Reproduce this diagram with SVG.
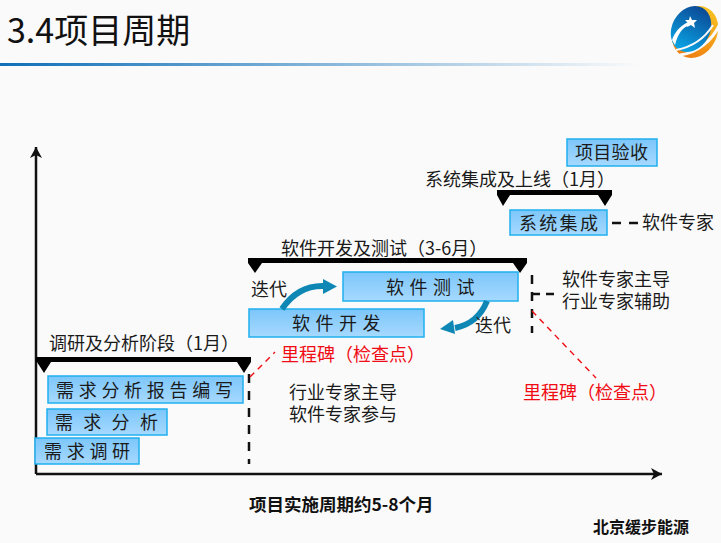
<svg xmlns="http://www.w3.org/2000/svg" width="721" height="543" viewBox="0 0 721 543">
<style>
text{font-family:"Noto Sans CJK SC","Noto Sans",sans-serif;fill:#1a1a1a}
.l{font-size:18px}
.b{font-size:18px}
.r{font-size:18px;fill:#f00c14}
.box{fill:url(#bg);stroke:#1fb0ee;stroke-width:1.5}
.dash{stroke:#111;stroke-width:2.5;fill:none;stroke-dasharray:9 8}
.red{stroke:#f00c14;stroke-width:1.4;fill:none;stroke-dasharray:6 5}
.bar{fill:#000}
.ax{stroke:#111;stroke-width:2.5;fill:none}
.it{stroke:#0f87b4;stroke-width:6;fill:none}
</style>
<defs>
<linearGradient id="bg" x1="0" y1="0" x2="0" y2="1"><stop offset="0" stop-color="#7cc6fa"/><stop offset="1" stop-color="#a6d9ff"/></linearGradient>
<linearGradient id="hb" x1="0" y1="0" x2="1" y2="0"><stop offset="0" stop-color="#0f6fb8"/><stop offset="1" stop-color="#fafafa"/></linearGradient>
<linearGradient id="lb" x1="0" y1="0" x2="0" y2="1"><stop offset="0" stop-color="#0b4a96"/><stop offset="1" stop-color="#0aa6e6"/></linearGradient>
<linearGradient id="lo" x1="0" y1="0" x2="0" y2="1"><stop offset="0" stop-color="#f7c020"/><stop offset="1" stop-color="#ef7d10"/></linearGradient>
<marker id="ah" markerUnits="userSpaceOnUse" markerWidth="14" markerHeight="14" refX="11" refY="7" orient="auto"><path d="M0 1L11 7L0 13L3 7Z" fill="#111"/></marker>
</defs>
<rect width="721" height="543" fill="#fafafa"/>
<g id="header">
<text x="7" y="43" style="font-size:34px;fill:#111">3.4项目周期</text>
<rect x="0" y="63" width="640" height="3" fill="url(#hb)"/>
<g id="logo">
<ellipse cx="695" cy="32" rx="22" ry="27" transform="rotate(28 695 32)" fill="url(#lo)"/>
<path d="M680 55C697 53 712 41 720 24" stroke="#fafafa" stroke-width="3" fill="none"/>
<ellipse cx="691" cy="29" rx="19" ry="24" transform="rotate(28 691 29)" fill="url(#lb)"/>
<path d="M672 40C675 31 682 24 691 21L690 25C683 27 678 33 675 45Z" fill="#fff"/>
<path d="M690 16l2 4 5 0-3 3 1 5-4-3-4 2 1-4-3-3 4 0Z" fill="#fff"/>
<path d="M676 50C692 47 705 38 713 25" stroke="#fafafa" stroke-width="2" fill="none"/>
</g>
</g>
<g id="connectors">
<path class="ax" d="M36 474V147" marker-end="url(#ah)"/>
<path class="ax" d="M36 474H662" marker-end="url(#ah)"/>
<path class="dash" d="M249 374V464"/>
<path class="dash" d="M532 275V333"/>
<path class="dash" style="stroke-dasharray:8 6" d="M532 294H555"/>
<path class="dash" d="M612 223H638"/>
<path class="red" d="M250 377L275 352"/>
<path class="red" d="M532 311L596 378"/>
</g>
<g id="bar1"><path class="bar" d="M36 357H251V362L244 373L237 362H51L44 373L37 362H36Z"/></g>
<g id="bar2"><path class="bar" d="M248 258H527V263L520 273L513 263H262L255 273L248 263Z"/></g>
<g id="bar3"><path class="bar" d="M497 190H612V195L605 206L598 195H510L503 206L497 195Z"/></g>
<g id="n-report"><rect class="box" x="48" y="376" width="195" height="27"/><text class="b" x="56" y="397" letter-spacing="4.7">需求分析报告编写</text></g>
<g id="n-analysis"><rect class="box" x="47" y="409" width="120" height="26"/><text class="b" x="55" y="429" letter-spacing="10.3">需求分析</text></g>
<g id="n-research"><rect class="box" x="35" y="438" width="104" height="26"/><text class="b" x="44" y="458" letter-spacing="4.7">需求调研</text></g>
<g id="n-dev"><rect class="box" x="249" y="309" width="175" height="28"/><text class="b" x="292" y="330" letter-spacing="5.5">软件开发</text></g>
<g id="n-test"><rect class="box" x="343" y="272" width="175" height="29"/><text class="b" x="386" y="294" letter-spacing="5.5">软件测试</text></g>
<g id="n-integ"><rect class="box" x="510" y="210" width="97" height="25"/><text class="b" x="519" y="230" letter-spacing="2.3">系统集成</text></g>
<g id="n-accept"><rect class="box" x="567" y="139" width="90" height="27"/><text class="b" x="575" y="159" letter-spacing="0.3">项目验收</text></g>
<g id="iter-arrows">
<path class="it" d="M282 309C292 294 305 285 325 286"/>
<path d="M323 279L337 286.500L323 294Z" fill="#0f87b4"/>
<path class="it" d="M487 301C481 316 470 325 455 328"/>
<path d="M440 329L453 320L455 334Z" fill="#0f87b4"/>
</g>
<g id="labels">
<text class="l" x="49" y="350">调研及分析阶段（1月）</text>
<text class="l" x="281" y="255">软件开发及测试（3-6月）</text>
<text class="l" x="425" y="186">系统集成及上线（1月）</text>
<text class="l" x="642" y="229">软件专家</text>
<text class="l" x="251" y="296">迭代</text>
<text class="l" x="475" y="332">迭代</text>
<text class="l" x="562"><tspan x="562" y="286">软件专家主导</tspan><tspan x="562" y="308">行业专家辅助</tspan></text>
<text class="l" x="289"><tspan x="289" y="399">行业专家主导</tspan><tspan x="289" y="421">软件专家参与</tspan></text>
<text class="r" x="281" y="361">里程碑（检查点）</text>
<text class="r" x="523" y="399">里程碑（检查点）</text>
<text x="249" y="511" style="font-size:17.500px;font-weight:700;fill:#111">项目实施周期约5-8个月</text>
<text x="593" y="533" style="font-size:16px;font-weight:700;fill:#111">北京缓步能源</text>
</g>
</svg>
